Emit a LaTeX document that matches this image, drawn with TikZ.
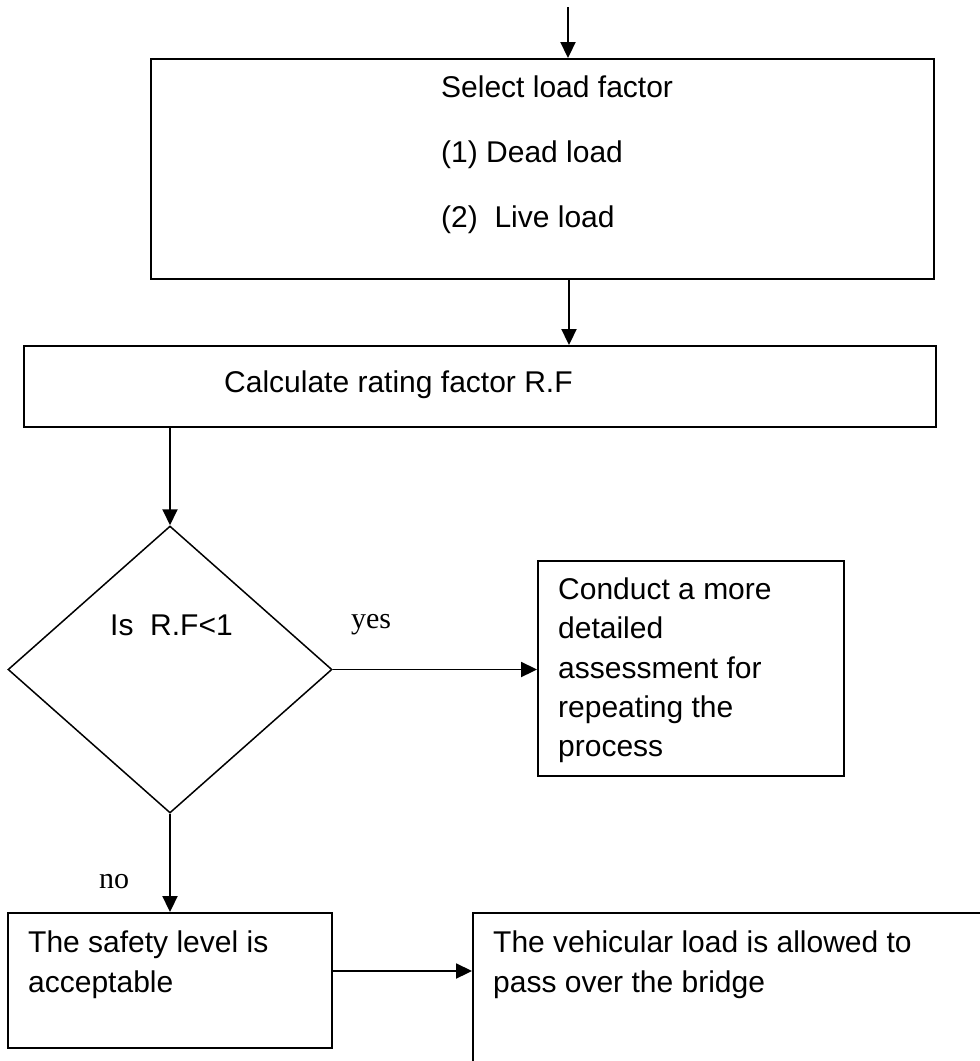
\documentclass[tikz,border=0pt]{standalone}
\usepackage{fontspec}
\setmainfont{Liberation Sans}
\newfontfamily\labelserif{Liberation Serif}
\usetikzlibrary{arrows.meta,shapes.geometric}
\begin{document}
\begin{tikzpicture}[x=1pt,y=-1pt,
  box/.style={draw, rectangle, line width=1.9pt, inner sep=0pt},
  decision/.style={draw, diamond, line width=1.5pt, inner sep=0pt},
  txt/.style={anchor=base west, inner sep=0pt, font=\fontsize{30}{36}\selectfont},
  lbl/.style={anchor=base, inner sep=0pt, font=\labelserif\fontsize{30}{36}\selectfont},
  arr/.style={line width=1.9pt, -{Triangle[length=16pt,width=15pt]}}]
\useasboundingbox (0,0) rectangle (980,1061);
\clip (0,0) rectangle (980,1061);
\fill[white] (0,0) rectangle (980,1061);

% boxes
\node[box, minimum width=783pt, minimum height=220pt] (load) at (542.5,169) {};
\node[box, minimum width=912pt, minimum height=81pt] (rate) at (480,386.5) {};
\node[decision, minimum width=324pt, minimum height=287pt] (check) at (170,669.5) {};
\node[box, minimum width=306pt, minimum height=215pt] (detail) at (691,668.5) {};
\node[box, minimum width=324pt, minimum height=135pt] (safe) at (170,980.5) {};
\node[box, minimum width=527pt, minimum height=177pt] (pass) at (736.5,1001.5) {};

% texts
\node[txt] (t1) at (441,97) {Select load factor};
\node[txt] (t2) at (441,162) {(1) Dead load};
\node[txt] (t3) at (441,227) {(2)\ \ Live load};
\node[txt] (t4) at (224,392) {Calculate rating factor R.F};
\node[txt] (t5) at (110,635) {Is\ \ R.F<1};
\node[txt] (t6) at (558,599) {Conduct a more};
\node[txt] (t7) at (558,638.5) {detailed};
\node[txt] (t8) at (558,678) {assessment for};
\node[txt] (t9) at (558,717) {repeating the};
\node[txt] (t10) at (558,756) {process};
\node[txt] (t11) at (28,952) {The safety level is};
\node[txt] (t12) at (28,992) {acceptable};
\node[txt] (t13) at (493,952) {The vehicular load is allowed to};
\node[txt] (t14) at (493,992) {pass over the bridge};
\node[lbl] (yes) at (371,628) {yes};
\node[lbl] (no) at (114,888) {no};

% connectors
\coordinate (start) at (568,7);
\coordinate (mid) at (569,0);
\coordinate (low) at (0,971);
\draw[arr] (start) -- (start |- load.north);
\draw[arr] (load.south -| mid) -- (rate.north -| mid);
\draw[arr] (rate.south -| check.north) -- (check.north);
\draw[arr] (check.east) -- (check.east -| detail.west);
\draw[arr] (check.south) -- (check.south |- safe.north);
\draw[arr] (safe.east |- low) -- (pass.west |- low);
\end{tikzpicture}
\end{document}
